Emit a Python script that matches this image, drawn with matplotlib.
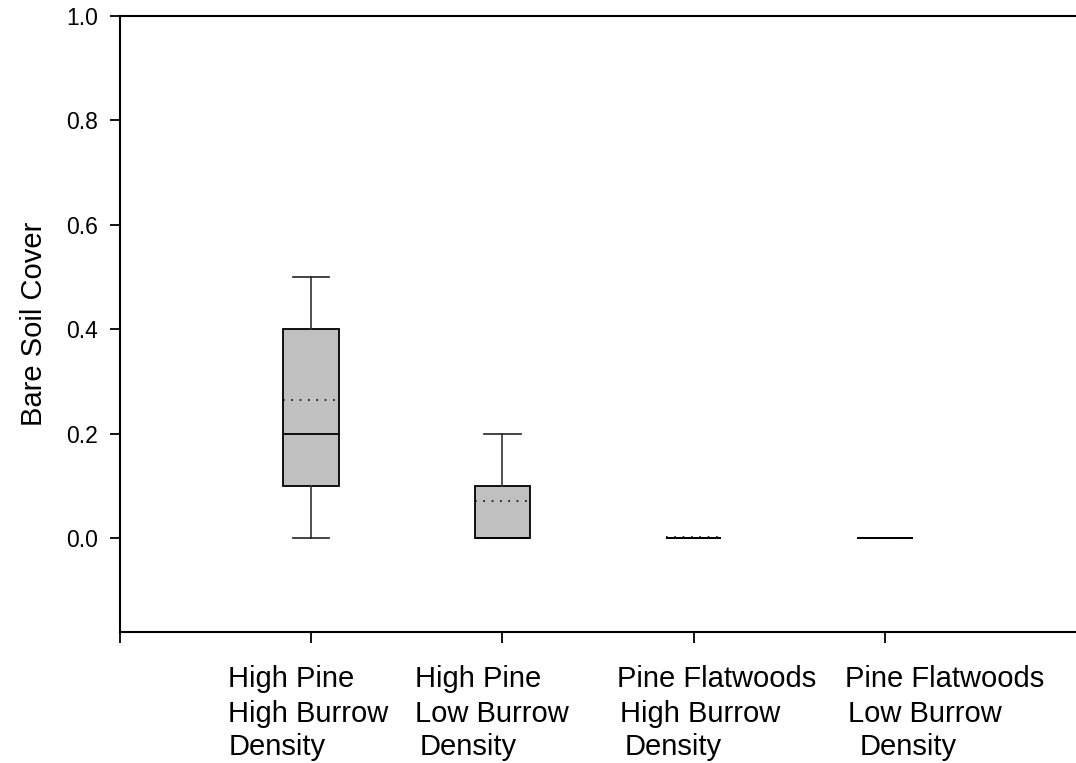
import matplotlib
matplotlib.use("Agg")
import matplotlib.pyplot as plt
from matplotlib.transforms import offset_copy, blended_transform_factory

plt.rcParams['font.family'] = ['Liberation Sans', 'DejaVu Sans']

# Data
groups = ["HP-HBD", "HP-LBD", "PF-HBD", "PF-LBD"]
whislo = [0.0, 0.0, 0.0, 0.0]
q1 = [0.10, 0.0, 0.0, 0.0]
med = [0.20, 0.0, 0.0, 0.0]
q3 = [0.40, 0.10, 0.0, 0.0]
whishi = [0.50, 0.20, 0.0, 0.0]
means = [0.265, 0.07, 0.002, 0.0]
label_lines = [
    ["High Pine", "High Burrow", "Density"],
    ["High Pine", "Low Burrow", "Density"],
    ["Pine Flatwoods", "High Burrow", "Density"],
    ["Pine Flatwoods", "Low Burrow", "Density"],
]
yticks = [0.0, 0.2, 0.4, 0.6, 0.8, 1.0]

W, H = 1076, 763
fig = plt.figure(figsize=(W / 100, H / 100), dpi=100)
ax = fig.add_axes([120 / W, 1 - 632 / H, 956 / W, (632 - 16) / H])

stats = []
for i in range(len(groups)):
    stats.append(dict(whislo=whislo[i], q1=q1[i], med=med[i], q3=q3[i],
                      whishi=whishi[i], mean=means[i], fliers=[], label=groups[i]))
positions = list(range(1, len(groups) + 1))
ax.bxp(stats, positions=positions, widths=0.29, patch_artist=True,
       showmeans=True, meanline=True, showfliers=False,
       boxprops=dict(facecolor='#c0c0c0', edgecolor='black', linewidth=1.3),
       medianprops=dict(color='black', linewidth=1.3),
       meanprops=dict(color='black', linestyle=(0, (1, 4)), linewidth=1.2),
       whiskerprops=dict(color='#333333', linewidth=1.2),
       capprops=dict(color='#222222', linewidth=1.2),
       capwidths=0.19)

ax.set_xlim(0, 5)
ax.set_ylim(-0.18, 1.0)
ax.set_yticks(yticks)
ax.set_yticklabels([f"{v:.1f}" for v in yticks], fontsize=16.5)
ax.set_xticks([0] + positions)
ax.set_xticklabels([])
ax.tick_params(axis='y', direction='out', length=7, width=1.3, pad=9)
ax.tick_params(axis='x', direction='out', length=8, width=1.3)
ax.spines['right'].set_visible(False)
for s in ['left', 'top', 'bottom']:
    ax.spines[s].set_linewidth(1.5)
ax.set_ylabel("Bare Soil Cover", fontsize=21, labelpad=13)

# Multi-line category labels
trans = blended_transform_factory(ax.transData, fig.transFigure)
label_dx = [[-83, -83, -83], [-87, -87, -83], [-77, -74, -69], [-40, -37, -25]]
baselines = [687, 722, 755]
for i, lines in enumerate(label_lines):
    for j, line in enumerate(lines):
        t = offset_copy(trans, fig=fig, x=label_dx[i][j] * 0.72, y=0, units='points')
        fig.text(positions[i], 1 - baselines[j] / H, line, transform=t,
                 ha='left', va='baseline', fontsize=21)

fig.savefig("out.png", dpi=100)
